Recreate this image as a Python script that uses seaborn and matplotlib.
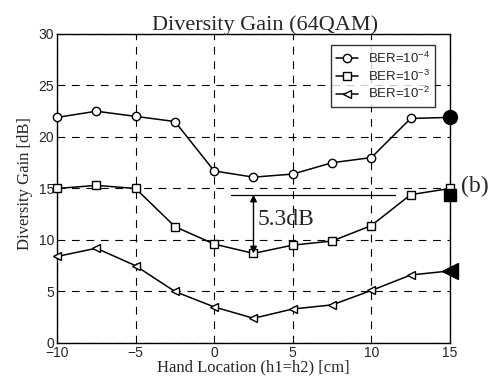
import matplotlib
matplotlib.use("Agg")
import matplotlib.pyplot as plt
import seaborn as sns
import pandas as pd

hand_loc = [-10, -7.5, -5, -2.5, 0, 2.5, 5, 7.5, 10, 12.5, 15]
ber_1e4 = [21.9, 22.5, 22.0, 21.5, 16.7, 16.1, 16.4, 17.5, 18.0, 21.8, 21.9]
ber_1e3 = [15.0, 15.3, 15.0, 11.3, 9.6, 8.7, 9.5, 9.9, 11.4, 14.4, 15.0]
ber_1e2 = [8.4, 9.2, 7.5, 5.0, 3.5, 2.4, 3.3, 3.7, 5.1, 6.6, 7.0]
labels = ["BER=10$^{-4}$", "BER=10$^{-3}$", "BER=10$^{-2}$"]
markers = ["o", "s", "<"]

# filled reference points (b) at x=15
ref_x = [15, 15, 15]
ref_y = [21.9, 14.4, 7.0]

gap_top = 14.4
gap_bottom = 8.7
gap_x = 2.5
gap_text = "5.3dB"

sns.set_style("white")
plt.rcParams["font.family"] = ["Liberation Sans", "DejaVu Sans"]
plt.rcParams["mathtext.fontset"] = "custom"
plt.rcParams["mathtext.rm"] = "Liberation Sans"
plt.rcParams["mathtext.it"] = "Liberation Sans"

fig = plt.figure(figsize=(4.95, 3.86), dpi=100)
ax = fig.add_axes([0.1152, 0.1114, 0.7938, 0.8006])

for ys, lab, mk in zip([ber_1e4, ber_1e3, ber_1e2], labels, markers):
    df = pd.DataFrame({"x": hand_loc, "y": ys})
    sns.lineplot(data=df, x="x", y="y", ax=ax, color="black", linewidth=1.1,
                 marker=mk, markersize=6, markerfacecolor="white",
                 markeredgecolor="black", markeredgewidth=1.0, label=lab,
                 clip_on=False, zorder=3)

for xx, yy, mk, ms in zip(ref_x, ref_y, markers, [10, 9, 11]):
    ax.plot([xx], [yy], marker=mk, markersize=ms, color="black",
            linestyle="none", clip_on=False, zorder=4)

ax.set_xlim(-10, 15)
ax.set_ylim(0, 30)
ax.set_xticks([-10, -5, 0, 5, 10, 15])
ax.set_yticks([0, 5, 10, 15, 20, 25, 30])
ax.grid(True, color="black", linestyle=(0, (7, 6)), linewidth=0.8)
ax.tick_params(direction="in", length=4, labelsize=10, color="black", pad=2)
for s in ax.spines.values():
    s.set_color("black")
    s.set_linewidth(1.0)

serif = ["Liberation Serif", "DejaVu Serif"]
ax.set_title("Diversity Gain (64QAM)", family=serif, fontsize=16, pad=3, x=0.529)
ax.set_xlabel("Hand Location (h1=h2) [cm]", family=serif, fontsize=12, labelpad=0)
ax.set_ylabel("Diversity Gain [dB]", family=serif, fontsize=12, labelpad=2)
ax.yaxis.set_label_coords(-0.062, 0.515)

# annotation
ax.plot([1.1, 11.5], [gap_top, gap_top], color="black", linewidth=0.9, zorder=2)
ax.annotate("", xy=(gap_x, gap_bottom), xytext=(gap_x, gap_top),
            arrowprops=dict(arrowstyle="<|-|>", color="black", lw=1.0,
                            shrinkA=0, shrinkB=0, mutation_scale=10))
ax.text(2.75, 12.0, gap_text, family=serif, fontsize=17, va="center", ha="left")
ax.text(15.7, 15.2, "(b)", family=serif, fontsize=17, va="center", ha="left",
        clip_on=False)

leg = ax.legend(loc="upper right", bbox_to_anchor=(0.98, 0.985), fontsize=9.5,
                frameon=True, fancybox=False, edgecolor="black",
                handlelength=1.6, borderpad=0.4, labelspacing=0.2,
                handletextpad=0.8)
leg.get_frame().set_linewidth(1.0)

fig.savefig("out.png", dpi=100)
